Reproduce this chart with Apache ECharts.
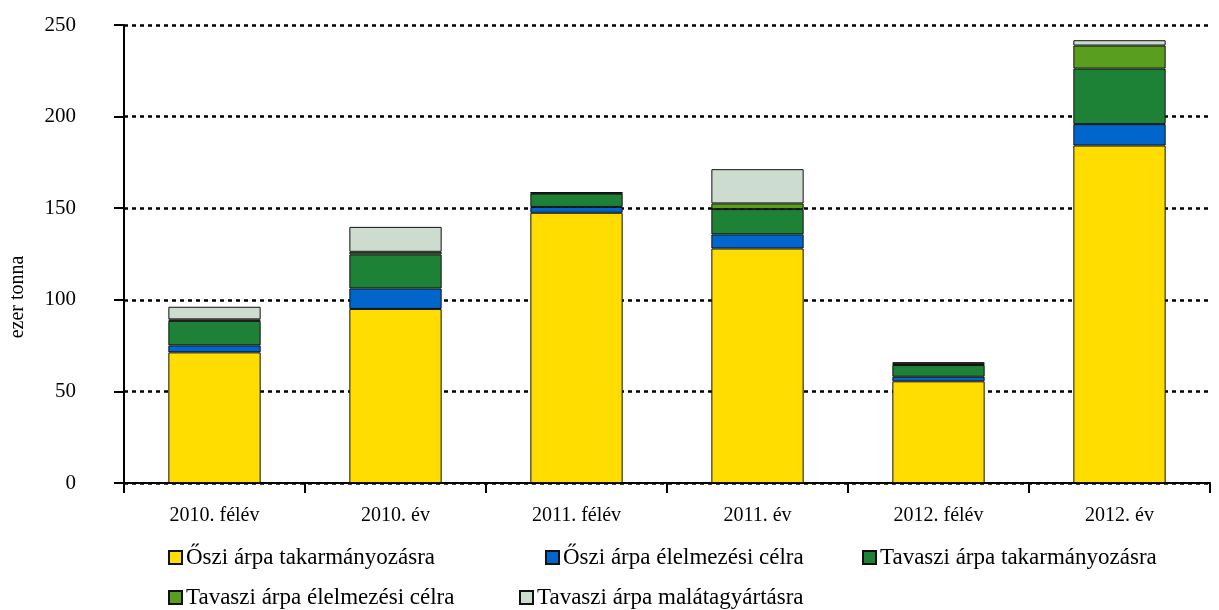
<!DOCTYPE html>
<html>
<head>
<meta charset="utf-8">
<script src="https://cdn.jsdelivr.net/npm/echarts@6/dist/echarts.min.js"></script>
<style>
  html, body { margin: 0; padding: 0; background: #fff; }
  #main { width: 1219px; height: 610px; }
</style>
</head>
<body>
<div id="main"></div>
<script>
// kategóriák és értékek (ezer tonna)
var categories = ['2010. félév', '2010. év', '2011. félév', '2011. év', '2012. félév', '2012. év'];
var seriesNames = ['Őszi árpa takarmányozásra', 'Őszi árpa élelmezési célra', 'Tavaszi árpa takarmányozásra',
  'Tavaszi árpa élelmezési célra', 'Tavaszi árpa malátagyártásra'];
var osziTakarmany = [71.3, 95.0, 147.5, 128.0, 55.5, 184.2];
var osziElelmezes = [3.8, 11.2, 3.2, 7.7, 2.5, 11.7];
var tavasziTakarmany = [13.4, 18.6, 7.3, 13.8, 6.4, 30.3];
var tavasziElelmezes = [0.8, 1.4, 0.4, 3.1, 1.0, 12.6];
var tavasziMalata = [6.9, 13.6, 0.3, 18.7, 0.4, 2.9];
var yTicks = [0, 50, 100, 150, 200, 250];

var font = 'Liberation Serif';
var colors = ['#FFDD00', '#0066CC', '#1E8236', '#5A9E1E', '#CCDDD0'];
var values = [osziTakarmany, osziElelmezes, tavasziTakarmany, tavasziElelmezes, tavasziMalata];

// a jelmagyarázat elemei egyenként, a minta szerinti helyen
var legendPos = [[168, 546], [545, 546], [862, 546], [168, 586], [519, 586]];

var series = seriesNames.map(function (name, i) {
  return {
    name: name,
    type: 'bar',
    stack: 'total',
    data: values[i],
    barWidth: '51%',
    itemStyle: { color: colors[i], borderColor: '#111', borderWidth: 1 }
  };
});

var legends = seriesNames.map(function (name, i) {
  return {
    data: [name],
    left: legendPos[i][0], top: legendPos[i][1],
    padding: 0,
    icon: 'rect',
    itemWidth: 13, itemHeight: 13, itemGap: 0,
    textStyle: { fontFamily: font, fontSize: 23, color: '#000', padding: [0, 0, 0, -1] }
  };
});

var myChart = echarts.init(document.getElementById('main'));
myChart.setOption({
  animation: false,
  textStyle: { fontFamily: font, color: '#000' },
  grid: { left: 120, right: 9, top: 25, bottom: 127 },
  legend: legends,
  xAxis: {
    type: 'category',
    data: categories,
    axisLine: { lineStyle: { color: '#000', width: 2 } },
    axisTick: { show: true, length: 10, lineStyle: { color: '#000', width: 2 } },
    axisLabel: { fontFamily: font, fontSize: 20, color: '#000', margin: 23 }
  },
  yAxis: {
    type: 'value',
    min: yTicks[0],
    max: yTicks[yTicks.length - 1],
    interval: 50,
    name: 'ezer tonna',
    nameLocation: 'middle',
    nameGap: 96,
    nameTextStyle: { fontFamily: font, fontSize: 20, color: '#000', padding: [0, 86, 0, 0] },
    axisLine: { show: true, lineStyle: { color: '#000', width: 2 } },
    axisTick: { show: true, length: 10, lineStyle: { color: '#000', width: 2 } },
    axisLabel: { fontFamily: font, fontSize: 21, color: '#000', margin: 48 },
    splitLine: { show: true, lineStyle: { color: '#000', width: 2.5, type: [4, 4] } }
  },
  series: series
});
</script>
</body>
</html>
